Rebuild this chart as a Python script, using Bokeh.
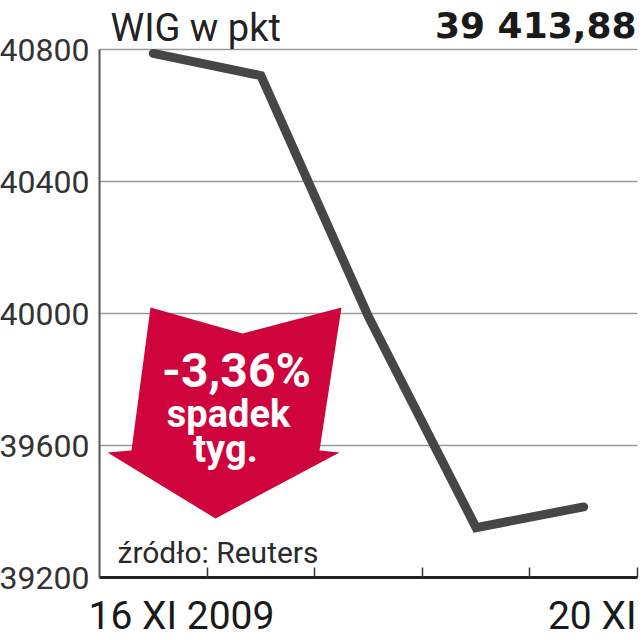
from bokeh.plotting import figure
from bokeh.models import FixedTicker, Range1d, LinearAxis
from bokeh.core.properties import value
from bokeh.embed import file_html
from bokeh.resources import INLINE

# ---- data ----
day_pos = [0.5, 1.5, 2.5, 3.5, 4.5]          # 16..20 XI 2009 (one slot per session)
wig = [40788, 40721, 39990, 39351, 39413.88]  # WIG close, points
y_ticks = [39200, 39600, 40000, 40400, 40800]
x_ticks = [1, 2, 3, 4, 5]
start_label = "16 XI 2009"
end_label = "20 XI"
title_text = "WIG w pkt"
last_value_text = "39 413,88"
change_lines = ["-3,36%", "spadek", "tyg."]
source_text = "źródło: Reuters"

# ---- layout helpers (page pixel -> data) ----
W, H = 643, 640
PLOT_L, PLOT_T, PLOT_W, PLOT_H = 99, 49, 538, 528   # where the axes box sits
X_LO, X_HI, Y_LO, Y_HI = 0, 5, 39200, 40800
BASELINE_FIX = 0.36   # em, measured offset of the rendered baseline


def dx(px):
    return X_LO + (px - PLOT_L) * (X_HI - X_LO) / PLOT_W


def dy(py):
    return Y_HI - (py - PLOT_T) * (Y_HI - Y_LO) / PLOT_H


FONT = "Roboto"
RED = "#d0043c"
LINE = "#464646"

p = figure(width=W, height=H, output_backend="svg", toolbar_location=None,
           x_range=Range1d(dx(0), dx(W)), y_range=Range1d(dy(H), dy(0)),
           x_axis_type=None, y_axis_type=None, min_border=0)
p.outline_line_color = None
p.background_fill_color = "white"
p.border_fill_color = "white"
p.xgrid.visible = False
p.ygrid.visible = False

# axes, fixed inside the full-canvas frame
yax = LinearAxis(ticker=FixedTicker(ticks=y_ticks), fixed_location=X_LO, bounds=(Y_LO, Y_HI))
yax.major_tick_in = 0
yax.major_tick_out = 0
yax.minor_tick_line_color = None
yax.axis_line_color = "#555555"
yax.axis_line_width = 2
yax.major_label_text_font = FONT
yax.major_label_text_font_size = "32px"
yax.major_label_text_color = "#333333"
yax.major_label_standoff = 10
p.add_layout(yax, "left")

xax = LinearAxis(ticker=FixedTicker(ticks=x_ticks), fixed_location=Y_LO, bounds=(X_LO, X_HI))
xax.major_tick_in = 10
xax.major_tick_out = 0
xax.major_tick_line_color = "#333333"
xax.major_tick_line_width = 1.5
xax.minor_tick_line_color = None
xax.axis_line_color = "#222222"
xax.axis_line_width = 3
xax.major_label_text_color = None
p.add_layout(xax, "below")

# horizontal grid lines at the y ticks, spanning the axes box
p.segment(x0=[X_LO] * len(y_ticks), x1=[X_HI] * len(y_ticks), y0=y_ticks, y1=y_ticks,
          line_color="#9a9a9a", line_width=1.5)

# red arrow callout (decoration, page-pixel outline)
arrow_px = [(150, 307), (242, 333), (341, 307), (319, 450), (339, 452),
            (215, 518), (107, 452), (131, 450)]
p.patch([dx(a) for a, b in arrow_px], [dy(b) for a, b in arrow_px],
        fill_color=RED, line_color=None)

# data line
p.line(day_pos, wig, line_width=9, line_color=LINE, line_cap="round", line_join="miter")


def txt(px, py, s, size, align, color="#1a1a1a", bold=False, font=FONT):
    fs = float(size.replace("px", ""))
    p.text(x=[dx(px)], y=[dy(py - BASELINE_FIX * fs)], text=[s], text_font=value(font),
           text_font_size=value(size), text_font_style="bold" if bold else "normal",
           text_color=color, text_align=align, text_baseline="alphabetic")


txt(110, 41, title_text, "38px", "left", "#222222")
txt(636, 38, last_value_text, "36px", "right", "#1a1a1a", bold=True, font="DejaVu Sans")
txt(88, 630, start_label, "39px", "left")
txt(636, 630, end_label, "39px", "right")
txt(117, 563, source_text, "30px", "left", "#2a2a2a")

for s, cx, by, fs in zip(change_lines, [236, 228, 225], [387, 427, 462],
                         ["48px", "38px", "38px"]):
    txt(cx, by, s, fs, "center", "white", bold=True)

open("out.html", "w").write(file_html(p, INLINE))
